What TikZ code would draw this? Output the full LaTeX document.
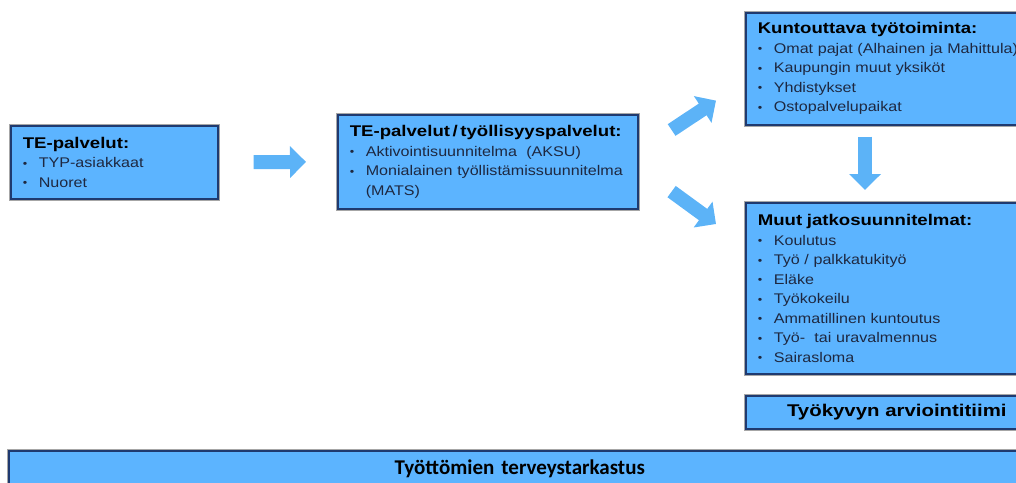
\documentclass[tikz,border=0pt]{standalone}
\usepackage{fontspec}
\setmainfont{Liberation Sans}
\newfontfamily\perus[FakeStretch=1.15]{Liberation Sans}
\newfontfamily\otsikko[FakeStretch=1.2]{Liberation Sans}
\newfontfamily\calib{Carlito}
\usetikzlibrary{arrows.meta,calc}
\definecolor{laatikko}{HTML}{5CB4FF}
\definecolor{reuna}{HTML}{1F3A70}
\definecolor{teksti}{HTML}{1E2840}
\definecolor{nuoli}{HTML}{5CB3F7}
\newcommand\kohta[1]{\makebox[16pt][l]{\raisebox{0.5pt}{\fontsize{11}{11}\selectfont\textbullet}}#1}
\newcommand\otsake[1]{\mbox{\otsikko\fontsize{15.5}{19.5}\selectfont\bfseries\color{black}#1}}
\begin{document}
\begin{tikzpicture}[x=1pt,y=-1pt,
    laatikko/.style={draw=reuna,line width=1.6pt,fill=laatikko,
      preaction={draw=black!35,line width=3.4pt},
      anchor=north west,inner xsep=12pt,inner ysep=0pt,align=left,
      font=\perus\fontsize{14}{19.5}\selectfont\color{teksti}},
    pijl/.style={draw=nuoli,line width=14pt,
      -{Triangle[length=16pt,width=31pt]}}]
    
    \clip (0,0) rectangle (1016,482);
    \useasboundingbox (0,0) rectangle (1016,482);
    
    \node[laatikko,minimum width=207pt,minimum height=73pt,text width=183pt] (te) at (10,125)
    {\otsake{TE-palvelut:}\\ \kohta{TYP-asiakkaat}\\ \kohta{Nuoret}};
    \node[laatikko,minimum width=300pt,minimum height=94pt,text width=276pt] (tyo) at (337,114)
    {\otsake{TE-palvelut\,/\,työllisyyspalvelut:}\\ \kohta{Aktivointisuunnitelma\ \ (AKSU)}\\
    \kohta{Monialainen työllistämissuunnitelma}\\ \hspace*{16pt}(MATS)};
    \node[laatikko,minimum width=302pt,minimum height=112pt,text width=278pt] (kunt) at (745,12)
    {\otsake{Kuntouttava työtoiminta:}\\ \kohta{Omat pajat (Alhainen ja Mahittula)}\\
    \kohta{Kaupungin muut yksiköt}\\ \kohta{Yhdistykset}\\ \kohta{Ostopalvelupaikat}};
    \node[laatikko,minimum width=302pt,minimum height=171pt,text width=278pt] (muut) at (745,202)
    {\otsake{Muut jatkosuunnitelmat:}\\ \kohta{Koulutus}\\ \kohta{Työ / palkkatukityö}\\
    \kohta{Eläke}\\ \kohta{Työkokeilu}\\ \kohta{Ammatillinen kuntoutus}\\
    \kohta{Työ-\ \ tai uravalmennus}\\ \kohta{Sairasloma}};
    \node[laatikko,minimum width=302pt,minimum height=33pt,text width=278pt,align=center,
      font=\otsikko\fontsize{17}{19.5}\selectfont\bfseries\color{black}] (tiimi) at (745,395)
    {Työkyvyn arviointitiimi};
    \node[laatikko,minimum width=1022pt,minimum height=35pt,text width=998pt,align=center,
      font=\calib\fontsize{21}{22}\selectfont\bfseries\color{black}] (terveys) at (8,450)
    {Työttömien terveystarkastus};
    
    \draw[pijl,shorten <=35pt,shorten >=31pt] (te.east) -- (tyo.west);
    \draw[pijl] ($(tyo.north east)+(33,16)$) -- ($(kunt.south west)+(-29,-25)$);
    \draw[pijl] ($(tyo.south east)+(33,-18)$) -- ($(muut.north west)+(-29,22)$);
    \draw[pijl] ($(kunt.south west)+(120,11)$) -- ($(muut.north west)+(120,-12)$);
   
\end{tikzpicture}
\end{document}
